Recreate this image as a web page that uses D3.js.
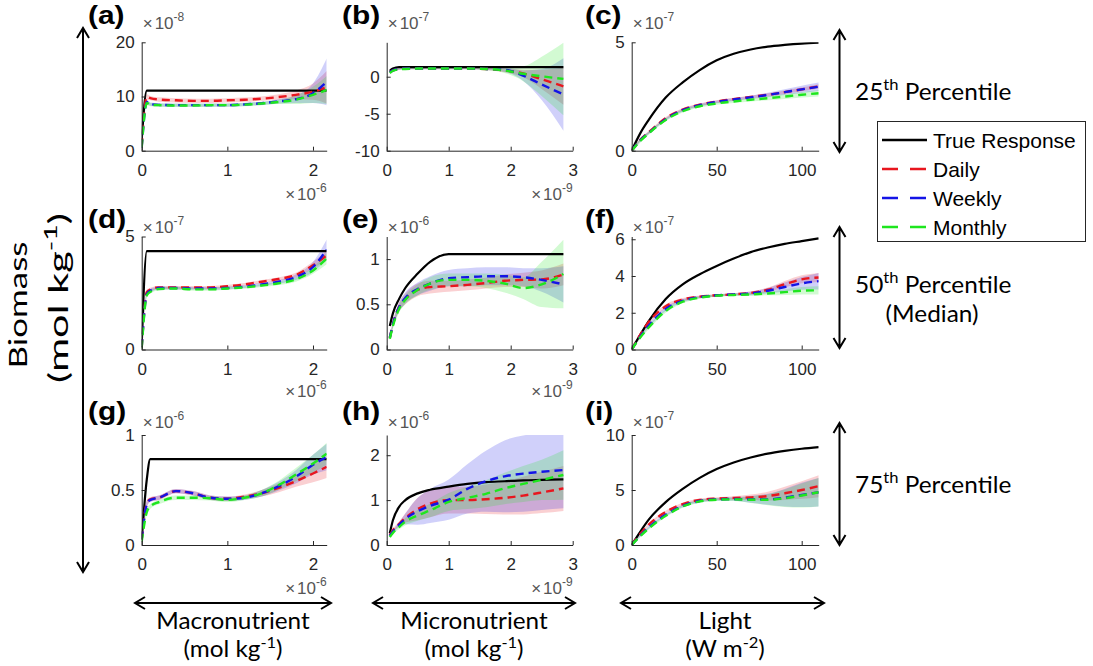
<!doctype html>
<html>
<head>
<meta charset="utf-8">
<script src="https://d3js.org/d3.v7.min.js"></script>
<style>
body { margin: 0; background: #fff; }
</style>
</head>
<body>
<script>
// ---- x values (one array per column) ----
var macroX = [0, 0.06, 0.1, 0.2, 0.4, 0.6, 0.8, 1.0, 1.2, 1.4, 1.6, 1.8, 2.0, 2.16];   // x1e-6 mol/kg
var microX = [0.05, 0.1, 0.2, 0.3, 0.5, 0.7, 1.0, 1.3, 1.6, 1.9, 2.2, 2.5, 2.85];        // x1e-9 mol/kg
var lightX = [0, 5, 10, 20, 30, 40, 50, 60, 70, 80, 90, 100, 110];                       // W m-2

var macroTicks = [0, 1, 2], microTicks = [0, 1, 2, 3], lightTicks = [0, 50, 100];

// ---- (a) 25th pct, macronutrient, x1e-8 ----
var aTrue    = [2, 11.1, 11.1, 11.1, 11.1, 11.1, 11.1, 11.1, 11.1, 11.1, 11.1, 11.1, 11.1, 11.1];
var aDaily   = [0.8, 9.9, 9.7, 9.45, 9.3, 9.2, 9.2, 9.3, 9.4, 9.6, 9.9, 10.3, 10.9, 11.7];
var aWeekly  = [0.6, 9.0, 8.6, 8.45, 8.4, 8.4, 8.4, 8.4, 8.55, 8.75, 9.1, 9.5, 10.6, 12.7];
var aMonthly = [0.6, 8.8, 8.5, 8.4, 8.35, 8.35, 8.4, 8.4, 8.5, 8.7, 9.0, 9.4, 10.3, 11.2];
var aDailyCI   = [0.2, 0.5, 0.4, 0.4, 0.4, 0.4, 0.4, 0.4, 0.4, 0.4, 0.5, 0.8, 1.5, 3.0];
var aWeeklyCI  = [0.2, 0.4, 0.3, 0.3, 0.3, 0.3, 0.3, 0.3, 0.3, 0.3, 0.4, 0.7, 1.8, 4.3];
var aMonthlyCI = [0.2, 0.4, 0.3, 0.3, 0.3, 0.3, 0.3, 0.3, 0.3, 0.3, 0.4, 0.8, 1.5, 2.6];

// ---- (b) 25th pct, micronutrient, x1e-7 ----
var bTrue    = [0.8, 1.1, 1.3, 1.3, 1.3, 1.3, 1.3, 1.3, 1.3, 1.3, 1.3, 1.3, 1.3];
var bDaily   = [0.6, 0.85, 1.05, 1.1, 1.1, 1.1, 1.1, 1.1, 1.05, 0.85, 0.45, -0.35, -1.3];
var bWeekly  = [0.6, 0.85, 1.05, 1.1, 1.1, 1.1, 1.1, 1.1, 1.05, 0.95, 0.15, -1.05, -2.4];
var bMonthly = [0.5, 0.8, 1.0, 1.05, 1.1, 1.1, 1.1, 1.1, 1.05, 0.85, 0.4, 0.05, -0.3];
var bDailyCI   = [0.1, 0.1, 0.1, 0.1, 0.1, 0.1, 0.1, 0.1, 0.15, 0.25, 0.5, 1.3, 2.5];
var bWeeklyCI  = [0.1, 0.1, 0.1, 0.1, 0.1, 0.1, 0.1, 0.1, 0.15, 0.3, 0.7, 2.1, 4.9];
var bMonthlyCI = [0.1, 0.1, 0.1, 0.1, 0.1, 0.1, 0.1, 0.1, 0.15, 0.35, 1.0, 2.65, 4.9];

// ---- (c) 25th pct, light, x1e-7 ----
var cTrue    = [0, 0.8, 1.42, 2.45, 3.15, 3.72, 4.17, 4.47, 4.67, 4.8, 4.88, 4.94, 4.98];
var cDaily   = [0, 0.5, 0.85, 1.5, 1.9, 2.12, 2.27, 2.38, 2.48, 2.58, 2.7, 2.83, 2.97];
var cWeekly  = [0, 0.48, 0.82, 1.45, 1.87, 2.1, 2.25, 2.36, 2.46, 2.57, 2.7, 2.83, 2.95];
var cMonthly = [0, 0.45, 0.8, 1.42, 1.82, 2.05, 2.18, 2.27, 2.35, 2.42, 2.5, 2.58, 2.65];
var cDailyCI   = [0.05, 0.06, 0.06, 0.06, 0.06, 0.06, 0.06, 0.06, 0.06, 0.07, 0.08, 0.09, 0.1];
var cWeeklyCI  = [0.05, 0.06, 0.06, 0.06, 0.06, 0.06, 0.06, 0.07, 0.08, 0.1, 0.13, 0.17, 0.2];
var cMonthlyCI = [0.1, 0.08, 0.06, 0.06, 0.06, 0.06, 0.06, 0.07, 0.08, 0.09, 0.11, 0.13, 0.15];

// ---- (d) median, macronutrient, x1e-7 ----
var dTrue    = [0.2, 4.35, 4.35, 4.35, 4.35, 4.35, 4.35, 4.35, 4.35, 4.35, 4.35, 4.35, 4.35, 4.35];
var dDaily   = [0.1, 2.55, 2.65, 2.75, 2.75, 2.75, 2.75, 2.8, 2.88, 3.0, 3.12, 3.3, 3.73, 4.17];
var dWeekly  = [0.1, 2.45, 2.6, 2.72, 2.72, 2.7, 2.7, 2.72, 2.78, 2.88, 3.0, 3.2, 3.65, 4.42];
var dMonthly = [0.05, 2.4, 2.55, 2.68, 2.7, 2.66, 2.66, 2.7, 2.75, 2.83, 2.93, 3.1, 3.5, 4.02];
var dDailyCI   = [0.05, 0.1, 0.08, 0.06, 0.06, 0.06, 0.06, 0.06, 0.06, 0.07, 0.08, 0.1, 0.15, 0.2];
var dWeeklyCI  = [0.05, 0.1, 0.08, 0.06, 0.06, 0.06, 0.06, 0.06, 0.06, 0.07, 0.08, 0.12, 0.22, 0.45];
var dMonthlyCI = [0.05, 0.1, 0.08, 0.06, 0.06, 0.06, 0.06, 0.06, 0.06, 0.07, 0.08, 0.1, 0.15, 0.25];

// ---- (e) median, micronutrient, x1e-6 ----
var eTrue    = [0.26, 0.4, 0.56, 0.68, 0.84, 0.97, 1.055, 1.055, 1.055, 1.055, 1.055, 1.055, 1.055];
var eDaily   = [0.13, 0.28, 0.47, 0.56, 0.66, 0.69, 0.70, 0.715, 0.735, 0.76, 0.77, 0.775, 0.83];
var eWeekly  = [0.13, 0.28, 0.47, 0.57, 0.67, 0.73, 0.79, 0.80, 0.81, 0.81, 0.80, 0.77, 0.72];
var eMonthly = [0.12, 0.26, 0.45, 0.55, 0.66, 0.73, 0.77, 0.77, 0.76, 0.73, 0.68, 0.72, 0.835];
var eDailyCI   = [0.02, 0.03, 0.05, 0.06, 0.07, 0.07, 0.06, 0.06, 0.06, 0.07, 0.08, 0.1, 0.12];
var eWeeklyCI  = [0.02, 0.03, 0.05, 0.06, 0.07, 0.08, 0.09, 0.1, 0.1, 0.1, 0.1, 0.13, 0.2];
var eMonthlyCI = [0.02, 0.03, 0.04, 0.05, 0.06, 0.07, 0.07, 0.07, 0.08, 0.1, 0.12, 0.25, 0.38];

// ---- (f) median, light, x1e-7 ----
var fTrue    = [0, 0.8, 1.55, 2.75, 3.55, 4.1, 4.55, 4.95, 5.3, 5.55, 5.75, 5.9, 6.05];
var fDaily   = [0, 0.8, 1.5, 2.35, 2.72, 2.88, 2.95, 3.0, 3.08, 3.25, 3.55, 3.82, 3.92];
var fWeekly  = [0, 0.7, 1.3, 2.2, 2.65, 2.85, 2.95, 3.0, 3.05, 3.2, 3.4, 3.6, 3.72];
var fMonthly = [0, 0.65, 1.2, 2.1, 2.6, 2.82, 2.93, 2.97, 3.0, 3.05, 3.12, 3.2, 3.22];
var fDailyCI   = [0.05, 0.08, 0.1, 0.1, 0.08, 0.06, 0.06, 0.06, 0.08, 0.12, 0.18, 0.22, 0.25];
var fWeeklyCI  = [0.05, 0.08, 0.1, 0.1, 0.08, 0.06, 0.06, 0.06, 0.1, 0.15, 0.25, 0.35, 0.45];
var fMonthlyCI = [0.05, 0.08, 0.1, 0.1, 0.08, 0.06, 0.06, 0.06, 0.08, 0.1, 0.15, 0.2, 0.22];

// ---- (g) 75th pct, macronutrient, x1e-6 ----
var gTrue    = [0.05, 0.6, 0.78, 0.78, 0.78, 0.78, 0.78, 0.78, 0.78, 0.78, 0.78, 0.78, 0.78, 0.78];
var gDaily   = [0.05, 0.38, 0.415, 0.43, 0.49, 0.47, 0.43, 0.42, 0.44, 0.47, 0.52, 0.58, 0.65, 0.71];
var gWeekly  = [0.05, 0.37, 0.41, 0.43, 0.49, 0.47, 0.43, 0.42, 0.43, 0.47, 0.535, 0.62, 0.73, 0.80];
var gMonthly = [0.03, 0.3, 0.35, 0.39, 0.43, 0.43, 0.425, 0.41, 0.43, 0.47, 0.545, 0.64, 0.74, 0.83];
var gDailyCI   = [0.02, 0.03, 0.02, 0.02, 0.02, 0.02, 0.02, 0.02, 0.02, 0.03, 0.04, 0.05, 0.08, 0.1];
var gWeeklyCI  = [0.02, 0.03, 0.02, 0.02, 0.02, 0.02, 0.02, 0.02, 0.02, 0.03, 0.04, 0.06, 0.09, 0.12];
var gMonthlyCI = [0.02, 0.03, 0.02, 0.02, 0.02, 0.02, 0.02, 0.02, 0.02, 0.03, 0.04, 0.06, 0.08, 0.1];

// ---- (h) 75th pct, micronutrient, x1e-6 ----
var hTrue    = [0.26, 0.55, 0.85, 1.0, 1.15, 1.23, 1.3, 1.36, 1.4, 1.42, 1.44, 1.45, 1.46];
var hDaily   = [0.22, 0.33, 0.47, 0.6, 0.8, 0.92, 1.0, 1.0, 1.02, 1.05, 1.1, 1.17, 1.26];
var hWeekly  = [0.2, 0.3, 0.45, 0.58, 0.75, 0.87, 1.01, 1.25, 1.42, 1.53, 1.59, 1.63, 1.67];
var hMonthly = [0.18, 0.27, 0.4, 0.52, 0.66, 0.77, 0.96, 1.05, 1.14, 1.26, 1.36, 1.45, 1.56];
var hDailyCI   = [0.02, 0.03, 0.05, 0.1, 0.25, 0.3, 0.3, 0.3, 0.33, 0.37, 0.42, 0.46, 0.5];
var hWeeklyCI  = [0.02, 0.03, 0.05, 0.12, 0.3, 0.38, 0.45, 0.55, 0.68, 0.8, 0.85, 0.85, 0.85];
var hMonthlyCI = [0.02, 0.03, 0.05, 0.08, 0.12, 0.15, 0.2, 0.25, 0.3, 0.35, 0.4, 0.45, 0.55];

// ---- (i) 75th pct, light, x1e-7 ----
var iTrue    = [0, 1.2, 2.3, 3.9, 5.1, 6.1, 6.9, 7.5, 7.95, 8.3, 8.55, 8.75, 8.9];
var iDaily   = [0, 1.0, 1.85, 3.0, 3.72, 4.1, 4.22, 4.28, 4.33, 4.45, 4.7, 5.0, 5.35];
var iWeekly  = [0, 0.85, 1.6, 2.75, 3.55, 4.0, 4.15, 4.18, 4.15, 4.15, 4.3, 4.55, 4.8];
var iMonthly = [0, 0.8, 1.5, 2.65, 3.5, 3.97, 4.12, 4.15, 4.12, 4.12, 4.25, 4.5, 4.8];
var iDailyCI   = [0.05, 0.1, 0.12, 0.12, 0.12, 0.12, 0.12, 0.15, 0.25, 0.4, 0.6, 0.8, 1.0];
var iWeeklyCI  = [0.05, 0.1, 0.12, 0.12, 0.12, 0.12, 0.12, 0.15, 0.3, 0.5, 0.8, 1.1, 1.3];
var iMonthlyCI = [0.05, 0.1, 0.12, 0.12, 0.12, 0.12, 0.12, 0.15, 0.3, 0.5, 0.8, 1.1, 1.3];

var seriesNames = ["True Response", "Daily", "Weekly", "Monthly"];
var rowLabels = ["25", "50", "75"];

var width = 1093, height = 666;
var colors = { "True Response": "#000", "Daily": "#e8161e", "Weekly": "#1414e6", "Monthly": "#1ee61e" };

var svg = d3.select("body").append("svg")
    .attr("width", width)
    .attr("height", height)
    .style("font-family", "'Liberation Sans', Arial, sans-serif");

// layout of the 3x3 grid
var cols = [
  { x0: 141.7, x1: 326.7, domain: [0, 2.16], ticks: macroTicks, xs: macroX, exp: "-6" },
  { x0: 386.7, x1: 572.7, domain: [0, 3], ticks: microTicks, xs: microX, exp: "-9" },
  { x0: 631.7, x1: 818.7, domain: [0, 110], ticks: lightTicks, xs: lightX, exp: null }
];
var rows = [
  { y0: 42.3, y1: 150.7 },
  { y0: 236.5, y1: 349.5 },
  { y0: 435, y1: 545 }
];

var panels = [
  { lab: "(a)", r: 0, c: 0, dom: [0, 20], ticks: [0, 10, 20], exp: "-8", s: [aTrue, aDaily, aWeekly, aMonthly], ci: [aDailyCI, aWeeklyCI, aMonthlyCI] },
  { lab: "(b)", r: 0, c: 1, dom: [-10, 4.65], ticks: [-10, -5, 0], exp: "-7", s: [bTrue, bDaily, bWeekly, bMonthly], ci: [bDailyCI, bWeeklyCI, bMonthlyCI] },
  { lab: "(c)", r: 0, c: 2, dom: [0, 5], ticks: [0, 5], exp: "-7", s: [cTrue, cDaily, cWeekly, cMonthly], ci: [cDailyCI, cWeeklyCI, cMonthlyCI] },
  { lab: "(d)", r: 1, c: 0, dom: [0, 5], ticks: [0, 5], exp: "-7", s: [dTrue, dDaily, dWeekly, dMonthly], ci: [dDailyCI, dWeeklyCI, dMonthlyCI] },
  { lab: "(e)", r: 1, c: 1, dom: [0, 1.25], ticks: [0, 0.5, 1], exp: "-6", s: [eTrue, eDaily, eWeekly, eMonthly], ci: [eDailyCI, eWeeklyCI, eMonthlyCI] },
  { lab: "(f)", r: 1, c: 2, dom: [0, 6.15], ticks: [0, 2, 4, 6], exp: "-7", s: [fTrue, fDaily, fWeekly, fMonthly], ci: [fDailyCI, fWeeklyCI, fMonthlyCI] },
  { lab: "(g)", r: 2, c: 0, dom: [0, 1], ticks: [0, 0.5, 1], exp: "-6", s: [gTrue, gDaily, gWeekly, gMonthly], ci: [gDailyCI, gWeeklyCI, gMonthlyCI] },
  { lab: "(h)", r: 2, c: 1, dom: [0, 2.45], ticks: [0, 1, 2], exp: "-6", s: [hTrue, hDaily, hWeekly, hMonthly], ci: [hDailyCI, hWeeklyCI, hMonthlyCI] },
  { lab: "(i)", r: 2, c: 2, dom: [0, 10], ticks: [0, 5, 10], exp: "-7", s: [iTrue, iDaily, iWeekly, iMonthly], ci: [iDailyCI, iWeeklyCI, iMonthlyCI] }
];

var labelBase = [24, 228, 420];     // panel letter baselines
var yExpBase = [29, 233, 428];      // "x10^n" above y axis
var xExpBase = [200, 397, 594];     // "x10^n" under x axis
var labelX = [88, 342, 585];

function sup(t, base, s, after, size) {
  t.append("tspan").text(base);
  t.append("tspan").attr("dy", -size * 0.42).style("font-size", (size * 0.68) + "px").text(s);
  if (after) t.append("tspan").attr("dy", size * 0.42).text(after);
  return t;
}

// MATLAB-like "x10^n" multiplier label
function expLabel(g, xPos, yPos, anchor, e) {
  var t = g.append("text").attr("x", xPos).attr("y", yPos).attr("text-anchor", anchor)
      .attr("fill", "#555").style("font-size", "17px");
  t.append("tspan").text("\u00d7");
  t.append("tspan").attr("dx", 2).text("10");
  t.append("tspan").attr("dy", -8).style("font-size", "12px").text(e);
}

panels.forEach(function (p, k) {
  var col = cols[p.c], row = rows[p.r];
  var x = d3.scaleLinear().domain(col.domain).range([col.x0, col.x1]);
  var y = d3.scaleLinear().domain(p.dom).range([row.y1, row.y0]);

  var g = svg.append("g");
  var clipId = "clip" + k;
  svg.append("clipPath").attr("id", clipId).append("rect")
      .attr("x", col.x0).attr("y", row.y0)
      .attr("width", col.x1 - col.x0).attr("height", row.y1 - row.y0);
  var plot = g.append("g").attr("clip-path", "url(#" + clipId + ")");

  // confidence bands
  for (var j = 1; j < 4; j++) {
    var mean = p.s[j], ci = p.ci[j - 1];
    var pts = col.xs.map(function (xv, i) { return { x: xv, lo: mean[i] - ci[i], hi: mean[i] + ci[i] }; });
    var area = d3.area()
        .x(function (d) { return x(d.x); })
        .y0(function (d) { return y(d.lo); })
        .y1(function (d) { return y(d.hi); })
        .curve(d3.curveMonotoneX);
    plot.append("path").attr("d", area(pts))
        .attr("fill", colors[seriesNames[j]]).attr("fill-opacity", 0.2);
  }

  // mean lines
  p.s.forEach(function (vals, j) {
    var pts = col.xs.map(function (xv, i) { return [xv, vals[i]]; });
    var line = d3.line()
        .x(function (d) { return x(d[0]); })
        .y(function (d) { return y(d[1]); })
        .curve(d3.curveMonotoneX);
    plot.append("path").attr("d", line(pts))
        .attr("fill", "none")
        .attr("stroke", colors[seriesNames[j]])
        .attr("stroke-width", j == 0 ? 2.2 : 2.4)
        .attr("stroke-dasharray", j == 0 ? null : "8,5");
  });

  // axes (MATLAB style ticks pointing inward, no box)
  var xa = g.append("g").attr("transform", "translate(0," + row.y1 + ")")
      .call(d3.axisBottom(x).tickValues(col.ticks).tickSize(-4).tickSizeOuter(0).tickPadding(13)
          .tickFormat(function (d) { return String(d); }));
  var ya = g.append("g").attr("transform", "translate(" + col.x0 + ",0)")
      .call(d3.axisLeft(y).tickValues(p.ticks).tickSize(-4).tickSizeOuter(0).tickPadding(7)
          .tickFormat(function (d) { return String(d); }));
  [xa, ya].forEach(function (a) {
    a.selectAll("path, line").attr("stroke", "#262626");
    a.selectAll("text").attr("fill", "#262626").style("font-size", "17px")
        .style("font-family", "'Liberation Sans', Arial, sans-serif");
  });

  // exponent labels
  expLabel(g, col.x0 + 1, yExpBase[p.r], "start", p.exp);
  if (col.exp) expLabel(g, col.x1, xExpBase[p.r], "end", col.exp);

  // panel letter
  svg.append("text")
      .attr("transform", "translate(" + labelX[p.c] + "," + labelBase[p.r] + ") scale(1.15,1)")
      .style("font-size", "26px").style("font-weight", "bold")
      .text(p.lab);
});

// arrows
function arrow(x1, y1, x2, y2) {
  var dx = x2 - x1, dy = y2 - y1, len = Math.sqrt(dx * dx + dy * dy);
  var ux = dx / len, uy = dy / len, hl = 10, hw = 6;
  var pth = d3.path();
  pth.moveTo(x1, y1); pth.lineTo(x2, y2);
  pth.moveTo(x2 - ux * hl - uy * hw, y2 - uy * hl + ux * hw); pth.lineTo(x2, y2);
  pth.lineTo(x2 - ux * hl + uy * hw, y2 - uy * hl - ux * hw);
  pth.moveTo(x1 + ux * hl - uy * hw, y1 + uy * hl + ux * hw); pth.lineTo(x1, y1);
  pth.lineTo(x1 + ux * hl + uy * hw, y1 + uy * hl - ux * hw);
  svg.append("path").attr("d", pth.toString())
      .attr("fill", "none").attr("stroke", "#000").attr("stroke-width", 2);
}

arrow(83, 28, 83, 572);
arrow(135, 603, 331, 603);
arrow(373, 603, 575, 603);
arrow(621, 603, 824, 603);
arrow(839.5, 30, 839.5, 152);
arrow(839.5, 227, 839.5, 348);
arrow(839.5, 423, 839.5, 545);

var calFont = "Lato, 'Open Sans', sans-serif";

// left y label (stretched along its length like the original)
svg.append("text")
    .attr("transform", "translate(27,305) rotate(-90) scale(1.4,1)")
    .attr("text-anchor", "middle").style("font-family", calFont).style("font-size", "25px")
    .text("Biomass");
sup(svg.append("text")
    .attr("transform", "translate(68,298) rotate(-90) scale(1.6,1)")
    .attr("text-anchor", "middle").style("font-family", calFont).style("font-size", "26px"),
    "(mol kg", "-1", ")", 26);

// bottom x labels
var xNames = ["Macronutrient", "Micronutrient", "Light"];
var xUnits = [["(mol kg", "-1", ")"], ["(mol kg", "-1", ")"], ["(W m", "-2", ")"]];
var xCenters = [233, 474, 725];
xNames.forEach(function (n, i) {
  svg.append("text")
      .attr("transform", "translate(" + xCenters[i] + ",629) scale(1.08,1)")
      .attr("text-anchor", "middle").style("font-family", calFont).style("font-size", "22.5px")
      .text(n);
  sup(svg.append("text")
      .attr("transform", "translate(" + xCenters[i] + ",657) scale(1.08,1)")
      .attr("text-anchor", "middle").style("font-family", calFont).style("font-size", "22.5px"),
      xUnits[i][0], xUnits[i][1], xUnits[i][2], 22.5);
});

// percentile labels on the right
var pctBase = [100, 293, 493];
rowLabels.forEach(function (r, i) {
  sup(svg.append("text")
      .attr("transform", "translate(855," + pctBase[i] + ") scale(1.06,1)")
      .style("font-family", calFont).style("font-size", "23px"),
      r, "th", " Percentile", 23);
});
svg.append("text")
    .attr("transform", "translate(932,322) scale(1.06,1)")
    .attr("text-anchor", "middle").style("font-family", calFont).style("font-size", "23px")
    .text("(Median)");

// legend
var leg = svg.append("g");
leg.append("rect").attr("x", 877.5).attr("y", 121.5).attr("width", 208).attr("height", 120)
    .attr("fill", "#fff").attr("stroke", "#262626").attr("stroke-width", 1);
seriesNames.forEach(function (n, i) {
  var cy = 140 + i * 29;
  leg.append("line").attr("x1", 882).attr("x2", 927).attr("y1", cy).attr("y2", cy)
      .attr("stroke", colors[n]).attr("stroke-width", 2.5)
      .attr("stroke-dasharray", i == 0 ? null : "16,12");
  leg.append("text").attr("x", 933).attr("y", cy + 7.5)
      .style("font-size", "21px").attr("fill", "#000").text(n);
});
</script>
</body>
</html>
